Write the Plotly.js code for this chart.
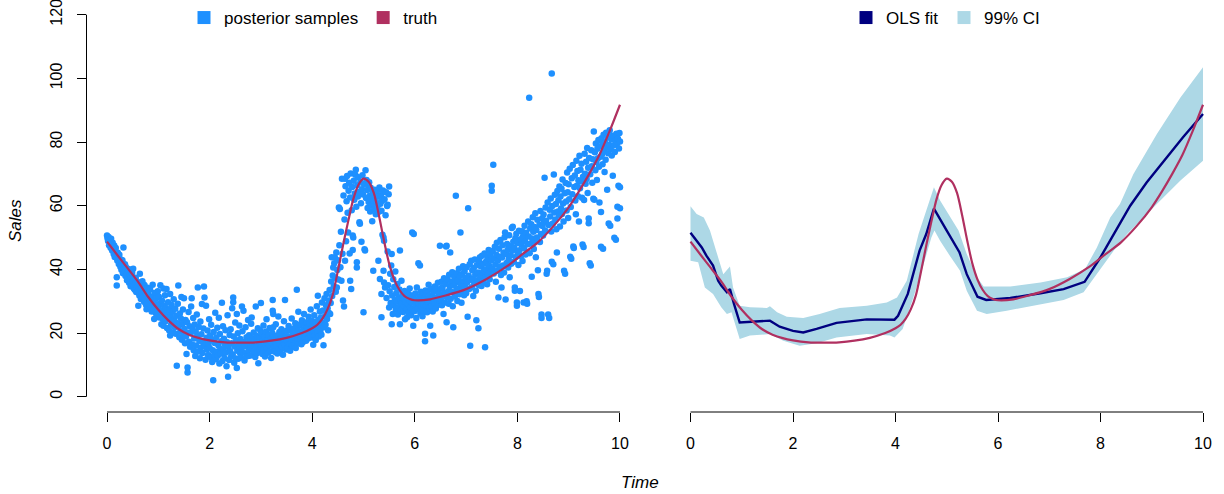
<!DOCTYPE html>
<html>
<head>
<meta charset="utf-8">
<script src="https://cdn.plot.ly/plotly-3.0.1.min.js"></script>
<style>html,body{margin:0;padding:0;background:#fff;}#chart{width:1224px;height:494px;}</style>
</head>
<body>
<div id="chart"></div>
<script>
// ---------- tick labels ----------
const xTicks = [0, 2, 4, 6, 8, 10];
const yTicks = [0, 20, 40, 60, 80, 100, 120];

// ---------- truth curve ----------
const truthTime  = [0,0.2,0.4,0.6,0.8,1.0,1.2,1.4,1.6,1.8,2.0,2.3,2.6,2.9,3.2,3.5,3.8,4.0,4.1,4.2,4.3,4.4,4.5,4.6,4.7,4.8,4.9,5.0,5.1,5.2,5.3,5.4,5.5,5.6,5.7,5.8,5.9,6.0,6.3,6.6,7.0,7.4,7.8,8.1,8.4,8.7,9.0,9.2,9.4,9.6,9.8,10];
const truthSales = [48.7,44.5,40.4,36.2,31.4,27.3,23.9,21.2,19.5,18.4,17.7,17.1,17.0,17.1,17.6,18.5,20.0,21.5,22.6,24.5,27.5,32.0,39.5,47.5,55.0,62.0,66.5,68.5,67.5,64.0,57.0,49.0,41.8,36.8,33.6,31.6,30.7,30.3,30.6,31.8,33.8,37.0,41.0,44.8,48.5,53.5,59.5,64.5,70.0,76.0,83.5,91.7];

// ---------- OLS fit ----------
const olsTime  = [0,0.22,0.31,0.44,0.54,0.6,0.71,0.77,0.85,0.96,1.35,1.55,1.74,2.0,2.2,2.46,2.85,3.44,3.98,4.05,4.24,4.47,4.6,4.75,5.0,5.25,5.39,5.6,5.77,6.24,6.83,7.28,7.69,8.0,8.26,8.58,8.9,9.29,9.61,10];
const olsSales = [51.5,46.9,44.3,41.2,36.4,34.9,32.8,33.8,29.1,23.3,23.7,23.9,22.0,20.7,20.2,21.3,23.2,24.3,24.2,25.4,32.3,45.9,51.1,59.1,52.2,45.3,38.5,31.4,30.4,31.0,32.5,33.8,36.1,43.8,51.1,60.0,67.3,75.2,81.5,88.8];

// ---------- 99% CI ----------
const ciUpperTime = [0,0.12,0.26,0.38,0.51,0.64,0.71,0.77,0.83,0.96,1.16,1.49,1.55,1.69,1.88,2.2,2.52,2.91,3.44,3.83,4.03,4.22,4.45,4.6,4.75,4.87,5.23,5.39,5.59,5.72,6.24,6.83,7.35,7.7,7.93,8.19,8.38,8.64,9.1,9.56,10];
const ciUpper     = [59.8,57.4,56.3,52.2,45.3,38.5,39.8,40.9,34.3,28.6,28.1,27.9,28.4,26.5,25.1,24.7,26.0,27.9,28.6,29.6,31.2,36.4,51.1,58.4,65.8,61.6,52.2,44.8,37.5,34.6,34.6,35.9,37.5,40.1,46.9,56.3,60.5,69.9,82.5,94.0,103.5];
const ciLowerTime = [0,0.15,0.28,0.44,0.6,0.71,0.8,0.9,0.96,1.16,1.55,1.81,2.13,2.46,2.85,3.44,3.89,3.98,4.14,4.33,4.53,4.7,4.76,4.87,5.06,5.26,5.39,5.59,5.78,6.17,6.56,7.28,7.67,7.93,8.26,8.52,8.78,9.1,9.56,10];
const ciLower     = [42.7,42.2,34.3,32.3,28.1,26.0,26.5,21.3,18.1,19.2,19.7,17.6,16.0,16.8,18.6,19.7,19.2,18.6,21.3,30.2,40.6,50.0,52.2,49.0,44.3,39.6,33.3,27.0,26.0,27.0,28.1,30.4,32.8,38.5,45.9,51.1,55.3,60.5,67.9,74.1];

// ---------- posterior samples [time, sales] ----------
const samples0to1 = [[0.00,50.6],[0.01,49.8],[0.02,48.9],[0.03,50.2],[0.04,47.6],[0.05,49.3],[0.06,48.1],[0.07,46.8],[0.08,49.6],[0.09,47.2],[0.10,45.9],[0.11,48.4],[0.12,46.3],[0.13,44.8],[0.14,47.5],[0.15,43.9],[0.16,45.6],[0.17,46.7],[0.18,44.1],[0.19,37.5],[0.19,34.9],[0.20,42.8],[0.21,45.2],[0.22,43.4],[0.23,41.7],[0.24,44.6],[0.25,42.2],[0.26,40.8],[0.27,43.1],[0.28,39.9],[0.29,41.5],[0.30,42.9],[0.31,38.8],[0.32,46.9],[0.33,40.3],[0.34,39.2],[0.35,41.6],[0.36,37.9],[0.37,40.7],[0.38,38.4],[0.39,36.6],[0.40,39.5],[0.41,37.3],[0.42,40.1],[0.43,35.8],[0.44,38.2],[0.45,36.9],[0.46,34.7],[0.47,37.6],[0.48,35.5],[0.49,38.9],[0.50,36.2],[0.51,40.2],[0.52,34.1],[0.53,36.8],[0.54,33.6],[0.55,35.3],[0.56,37.4],[0.57,32.9],[0.58,34.8],[0.59,36.1],[0.60,33.2],[0.61,28.6],[0.62,35.7],[0.63,31.8],[0.64,38.6],[0.65,33.9],[0.66,30.7],[0.67,34.6],[0.68,32.4],[0.69,36.3],[0.70,31.1],[0.71,33.3],[0.72,29.8],[0.73,35.1],[0.74,30.4],[0.75,32.7],[0.76,28.9],[0.77,27.5],[0.78,31.6],[0.79,34.2],[0.80,29.3],[0.81,32.1],[0.82,27.9],[0.83,30.8],[0.84,33.7],[0.85,28.4],[0.86,31.3],[0.87,26.8],[0.88,29.6],[0.89,35.2],[0.90,27.2],[0.91,30.1],[0.92,24.4],[0.93,32.6],[0.94,28.1],[0.95,26.3],[0.96,30.9],[0.97,25.7],[0.98,29.0],[0.99,33.1]];
const samples1to2 = [[1.00,27.8],[1.01,31.4],[1.02,24.9],[1.03,29.3],[1.04,35.0],[1.05,26.6],[1.06,22.8],[1.07,30.2],[1.08,27.1],[1.09,24.3],[1.10,34.0],[1.10,22.3],[1.11,28.6],[1.12,25.6],[1.13,31.9],[1.14,23.7],[1.15,27.9],[1.16,33.8],[1.17,21.6],[1.18,26.2],[1.19,29.7],[1.20,24.8],[1.21,20.9],[1.22,27.3],[1.23,32.3],[1.23,19.2],[1.24,25.1],[1.25,22.6],[1.26,28.8],[1.27,23.9],[1.28,26.7],[1.29,20.2],[1.30,30.6],[1.31,24.2],[1.32,21.8],[1.33,27.6],[1.34,19.8],[1.35,25.4],[1.36,9.7],[1.37,23.1],[1.38,29.2],[1.39,34.9],[1.40,22.2],[1.41,18.7],[1.42,26.1],[1.43,20.6],[1.44,24.6],[1.45,31.3],[1.46,17.9],[1.47,22.9],[1.48,27.4],[1.49,19.4],[1.50,30.9],[1.51,21.3],[1.52,16.8],[1.53,24.1],[1.54,18.9],[1.55,13.4],[1.56,23.4],[1.57,9.2],[1.57,7.6],[1.58,20.1],[1.59,26.6],[1.60,17.3],[1.61,22.1],[1.62,15.7],[1.63,19.9],[1.64,28.3],[1.65,30.9],[1.66,16.4],[1.67,21.2],[1.68,24.7],[1.69,14.6],[1.70,18.3],[1.71,22.7],[1.72,12.8],[1.73,20.4],[1.74,16.1],[1.75,25.8],[1.76,19.1],[1.77,34.3],[1.78,14.2],[1.79,21.9],[1.80,17.6],[1.81,12.1],[1.82,23.6],[1.83,15.4],[1.84,19.6],[1.85,29.1],[1.86,13.7],[1.87,17.1],[1.88,21.4],[1.89,34.6],[1.90,31.2],[1.91,15.9],[1.92,11.6],[1.93,28.6],[1.94,18.5],[1.95,14.9],[1.96,20.8],[1.97,13.1],[1.98,16.7],[1.99,24.3]];
const samples2to3 = [[2.00,15.3],[2.01,19.2],[2.02,12.4],[2.03,22.6],[2.04,17.8],[2.05,10.9],[2.06,14.6],[2.07,5.2],[2.08,20.3],[2.09,13.2],[2.10,16.9],[2.11,26.4],[2.12,11.8],[2.13,18.6],[2.14,14.1],[2.15,21.7],[2.16,12.9],[2.17,16.2],[2.18,24.8],[2.19,10.4],[2.20,19.7],[2.21,15.1],[2.22,13.6],[2.23,17.4],[2.24,29.5],[2.25,11.2],[2.26,22.1],[2.27,14.8],[2.28,18.2],[2.29,12.2],[2.30,16.5],[2.31,20.9],[2.32,13.9],[2.33,9.6],[2.34,17.1],[2.35,25.6],[2.36,6.3],[2.37,15.6],[2.38,11.5],[2.39,19.4],[2.40,14.3],[2.41,21.2],[2.42,12.6],[2.43,16.8],[2.44,27.8],[2.45,13.3],[2.46,31.2],[2.46,29.7],[2.47,18.9],[2.48,10.7],[2.49,15.8],[2.50,23.3],[2.51,12.0],[2.52,17.7],[2.53,26.0],[2.53,9.0],[2.54,14.4],[2.55,19.9],[2.56,11.9],[2.57,16.3],[2.58,22.4],[2.59,13.8],[2.60,18.1],[2.61,12.3],[2.62,15.2],[2.63,28.3],[2.64,20.6],[2.65,14.0],[2.66,27.0],[2.67,17.2],[2.68,11.4],[2.69,15.9],[2.70,21.8],[2.71,13.5],[2.72,18.7],[2.73,12.7],[2.74,16.6],[2.75,24.1],[2.76,14.7],[2.77,19.3],[2.78,12.9],[2.79,17.5],[2.80,15.4],[2.81,22.9],[2.82,24.9],[2.83,13.1],[2.84,18.4],[2.85,16.1],[2.86,20.2],[2.87,14.2],[2.88,17.9],[2.89,12.5],[2.90,28.3],[2.91,15.7],[2.92,19.1],[2.93,13.7],[2.94,21.5],[2.95,10.5],[2.96,16.9],[2.97,18.3],[2.98,14.5],[2.99,20.7]];
const samples3to4 = [[3.00,29.4],[3.01,15.6],[3.02,19.8],[3.03,13.4],[3.04,17.6],[3.05,22.4],[3.06,14.9],[3.07,18.8],[3.08,12.6],[3.09,16.4],[3.10,20.5],[3.11,24.3],[3.12,15.2],[3.13,17.9],[3.14,13.8],[3.15,19.4],[3.16,16.2],[3.17,21.6],[3.18,14.3],[3.19,18.1],[3.20,12.2],[3.21,16.9],[3.22,20.1],[3.23,30.4],[3.23,27.0],[3.24,21.8],[3.24,26.0],[3.25,15.5],[3.26,18.6],[3.27,14.1],[3.28,17.3],[3.29,22.8],[3.30,16.0],[3.31,19.2],[3.32,13.6],[3.33,17.7],[3.34,25.2],[3.35,15.1],[3.36,20.3],[3.37,16.7],[3.38,14.6],[3.39,18.4],[3.40,21.2],[3.41,15.8],[3.42,19.6],[3.43,13.2],[3.44,17.1],[3.45,23.7],[3.46,16.3],[3.47,30.4],[3.48,18.9],[3.49,14.8],[3.50,20.7],[3.51,17.4],[3.52,15.4],[3.53,19.0],[3.54,22.2],[3.55,16.6],[3.56,18.2],[3.57,14.4],[3.58,20.9],[3.59,17.0],[3.60,24.6],[3.61,15.9],[3.62,19.5],[3.63,17.8],[3.64,21.4],[3.65,16.1],[3.66,18.7],[3.67,23.1],[3.68,15.3],[3.69,20.0],[3.70,33.6],[3.71,17.5],[3.72,21.9],[3.73,26.7],[3.74,16.8],[3.75,19.3],[3.76,22.7],[3.77,18.0],[3.78,20.4],[3.79,16.5],[3.80,24.0],[3.81,19.7],[3.82,17.2],[3.83,21.1],[3.84,26.0],[3.85,18.5],[3.86,22.5],[3.87,20.6],[3.88,17.6],[3.89,23.4],[3.90,19.8],[3.91,21.7],[3.92,18.3],[3.93,25.1],[3.94,20.2],[3.95,22.9],[3.96,19.1],[3.97,27.4],[3.98,21.3],[3.99,23.9]];
const samples4to45 = [[4.00,18.6],[4.01,22.8],[4.02,16.3],[4.03,20.4],[4.04,25.6],[4.05,19.2],[4.06,23.5],[4.07,17.8],[4.08,21.6],[4.09,28.4],[4.10,20.1],[4.11,31.7],[4.12,24.2],[4.13,18.9],[4.14,22.3],[4.15,26.8],[4.16,20.7],[4.17,24.9],[4.18,19.5],[4.19,29.6],[4.20,23.2],[4.21,27.1],[4.22,16.2],[4.23,21.8],[4.24,30.9],[4.25,25.3],[4.26,22.6],[4.27,28.7],[4.28,32.3],[4.29,24.4],[4.30,27.8],[4.31,20.9],[4.32,30.2],[4.33,26.3],[4.34,33.5],[4.35,26.0],[4.36,29.4],[4.37,36.2],[4.38,43.8],[4.39,31.6],[4.40,38.1],[4.41,40.6],[4.42,34.7],[4.43,41.9],[4.44,43.8],[4.45,37.4],[4.46,33.0],[4.47,45.3],[4.48,34.3],[4.49,39.8]];
const samples45to55 = [[4.50,42.9],[4.51,36.8],[4.52,59.4],[4.53,47.6],[4.54,59.0],[4.55,40.7],[4.56,51.8],[4.57,36.4],[4.58,68.5],[4.59,44.9],[4.60,30.2],[4.61,63.2],[4.62,28.3],[4.63,55.7],[4.64,42.7],[4.64,68.5],[4.65,66.1],[4.66,48.8],[4.67,61.4],[4.68,69.3],[4.69,57.8],[4.70,51.6],[4.71,64.7],[4.72,67.2],[4.73,45.0],[4.74,36.4],[4.74,62.6],[4.75,70.1],[4.76,33.8],[4.77,58.6],[4.78,65.9],[4.79,46.1],[4.79,50.6],[4.80,50.0],[4.81,67.8],[4.82,61.9],[4.83,63.8],[4.84,69.7],[4.85,71.3],[4.86,59.7],[4.87,42.2],[4.87,40.6],[4.88,66.4],[4.89,62.9],[4.90,68.9],[4.91,64.3],[4.92,54.8],[4.93,54.3],[4.94,67.5],[4.95,60.8],[4.96,48.7],[4.97,65.2],[4.98,69.6],[4.99,63.5],[5.00,26.5],[5.01,66.8],[5.02,46.3],[5.03,45.9],[5.04,71.1],[5.05,62.4],[5.06,68.1],[5.07,64.9],[5.08,59.3],[5.09,66.6],[5.10,61.2],[5.11,67.4],[5.12,63.1],[5.13,58.2],[5.14,65.6],[5.15,62.2],[5.16,60.1],[5.17,55.1],[5.18,64.1],[5.19,39.6],[5.20,61.7],[5.21,58.9],[5.22,65.0],[5.23,63.7],[5.24,57.3],[5.25,61.0],[5.26,64.5],[5.27,59.6],[5.28,62.8],[5.29,42.7],[5.30,58.1],[5.31,65.7],[5.32,37.0],[5.33,60.6],[5.34,63.3],[5.35,58.4],[5.35,32.3],[5.35,25.0],[5.36,61.5],[5.37,50.9],[5.38,64.8],[5.39,50.0],[5.39,39.6],[5.40,35.9],[5.40,49.0],[5.41,62.0],[5.42,34.3],[5.43,57.0],[5.44,64.2],[5.45,31.0],[5.46,59.9],[5.47,60.3],[5.47,45.6],[5.48,35.0],[5.49,63.6],[5.50,28.0],[5.50,66.0]];
const samples55to65 = [[5.51,33.1],[5.52,38.6],[5.53,29.4],[5.54,41.2],[5.55,44.8],[5.55,22.8],[5.56,31.8],[5.57,26.0],[5.58,36.9],[5.59,28.7],[5.60,34.5],[5.61,30.3],[5.62,39.3],[5.63,27.4],[5.64,32.6],[5.65,29.9],[5.66,35.4],[5.67,25.8],[5.68,31.2],[5.69,28.2],[5.70,33.7],[5.71,45.9],[5.71,22.8],[5.72,30.6],[5.73,27.1],[5.74,36.4],[5.75,29.3],[5.76,32.1],[5.77,26.6],[5.78,30.9],[5.79,28.5],[5.80,33.2],[5.81,24.3],[5.82,29.7],[5.83,31.5],[5.84,27.8],[5.85,25.0],[5.85,27.5],[5.86,32.8],[5.87,29.1],[5.88,26.4],[5.89,30.4],[5.90,34.0],[5.91,28.0],[5.92,31.9],[5.93,25.6],[5.94,29.6],[5.95,51.6],[5.96,27.3],[5.97,22.3],[5.98,51.1],[5.99,30.8],[6.00,26.9],[6.01,32.4],[6.02,28.8],[6.03,24.7],[6.04,34.3],[6.05,30.0],[6.06,27.6],[6.07,41.9],[6.08,29.2],[6.09,31.4],[6.10,41.2],[6.11,26.2],[6.12,33.0],[6.13,28.4],[6.14,30.7],[6.15,25.3],[6.16,32.2],[6.17,29.0],[6.18,27.0],[6.19,31.1],[6.20,19.8],[6.20,17.4],[6.21,33.4],[6.22,28.6],[6.23,30.5],[6.24,26.5],[6.25,32.7],[6.26,29.8],[6.27,35.2],[6.28,27.9],[6.29,31.7],[6.30,22.3],[6.31,30.1],[6.32,33.8],[6.33,28.3],[6.34,31.3],[6.35,26.8],[6.36,19.2],[6.37,32.9],[6.38,29.5],[6.39,34.6],[6.40,30.9],[6.41,27.7],[6.42,33.6],[6.43,31.0],[6.44,29.3],[6.45,35.8],[6.46,28.9],[6.47,32.5],[6.48,30.2],[6.49,47.4]];
const samples65to75 = [[6.50,33.9],[6.51,30.4],[6.52,36.1],[6.53,28.7],[6.54,34.3],[6.55,31.8],[6.56,26.0],[6.57,37.2],[6.58,32.6],[6.59,29.6],[6.60,35.5],[6.61,47.2],[6.62,47.4],[6.62,23.4],[6.63,31.2],[6.64,36.8],[6.65,33.1],[6.66,29.2],[6.67,38.3],[6.68,34.7],[6.69,45.3],[6.70,30.8],[6.71,36.0],[6.72,32.9],[6.73,39.1],[6.74,28.4],[6.75,21.8],[6.76,34.9],[6.77,37.6],[6.78,31.5],[6.79,35.8],[6.80,63.1],[6.81,33.4],[6.82,38.8],[6.83,30.1],[6.84,36.5],[6.85,34.0],[6.86,40.2],[6.87,32.2],[6.88,37.9],[6.89,51.6],[6.90,35.2],[6.91,29.5],[6.92,38.5],[6.93,33.6],[6.94,41.0],[6.95,36.3],[6.96,31.9],[6.97,39.4],[6.98,34.6],[6.99,37.3],[7.00,32.5],[7.01,40.7],[7.02,35.9],[7.03,25.1],[7.04,59.2],[7.05,38.0],[7.06,33.8],[7.07,41.6],[7.08,16.0],[7.09,36.7],[7.10,42.7],[7.11,34.4],[7.12,39.7],[7.13,37.1],[7.14,31.6],[7.15,40.4],[7.16,35.6],[7.17,43.1],[7.18,38.4],[7.19,33.3],[7.20,24.0],[7.21,41.3],[7.22,36.6],[7.23,39.0],[7.24,21.5],[7.25,35.0],[7.26,42.2],[7.27,43.8],[7.28,37.7],[7.29,40.9],[7.30,34.8],[7.31,44.3],[7.32,38.9],[7.33,36.2],[7.34,41.8],[7.35,39.5],[7.36,45.0],[7.37,15.5],[7.38,37.4],[7.39,42.5],[7.40,40.0],[7.41,35.3],[7.42,43.6],[7.43,38.6],[7.44,46.1],[7.45,41.1],[7.46,36.9],[7.47,44.7],[7.48,39.2],[7.49,42.9],[7.50,66.3],[7.50,64.7]];
const samples75to85 = [[7.51,40.3],[7.52,45.8],[7.53,72.9],[7.54,38.7],[7.55,43.4],[7.56,47.1],[7.57,41.5],[7.58,36.1],[7.59,44.6],[7.60,48.4],[7.61,39.6],[7.62,42.8],[7.63,31.2],[7.64,46.5],[7.65,40.9],[7.66,44.0],[7.67,49.2],[7.68,38.2],[7.69,34.3],[7.70,43.7],[7.71,47.6],[7.72,41.2],[7.73,45.3],[7.74,39.0],[7.75,50.1],[7.76,51.6],[7.77,30.5],[7.78,44.8],[7.79,42.0],[7.80,48.0],[7.81,46.2],[7.82,40.6],[7.83,43.2],[7.84,50.7],[7.85,37.5],[7.86,47.3],[7.87,44.4],[7.88,41.8],[7.89,53.0],[7.90,45.9],[7.91,53.4],[7.92,48.7],[7.93,42.4],[7.94,46.8],[7.95,34.3],[7.95,33.3],[7.96,49.8],[7.97,43.9],[7.98,51.2],[7.99,28.6],[7.99,29.6],[8.00,45.5],[8.01,48.3],[8.02,41.4],[8.03,52.1],[8.04,46.0],[8.05,33.2],[8.06,49.5],[8.07,44.2],[8.08,47.7],[8.09,52.0],[8.10,42.6],[8.11,50.4],[8.12,29.6],[8.13,46.6],[8.14,53.7],[8.15,48.9],[8.16,44.7],[8.17,51.5],[8.18,30.0],[8.19,29.2],[8.20,47.9],[8.21,55.0],[8.22,50.3],[8.23,93.9],[8.24,45.1],[8.25,52.8],[8.26,48.1],[8.27,54.2],[8.28,37.7],[8.29,49.7],[8.30,56.4],[8.31,51.8],[8.32,46.4],[8.33,53.3],[8.34,49.0],[8.35,57.6],[8.36,43.8],[8.37,52.4],[8.38,50.0],[8.39,55.6],[8.40,39.7],[8.41,32.3],[8.42,31.3],[8.43,54.0],[8.44,48.6],[8.45,58.3],[8.46,51.1],[8.47,25.8],[8.47,24.7],[8.48,56.0],[8.49,53.6]];
const samples85to95 = [[8.50,50.6],[8.51,57.2],[8.52,54.7],[8.53,68.8],[8.54,52.2],[8.55,59.4],[8.56,55.3],[8.57,38.6],[8.58,39.6],[8.59,61.0],[8.60,25.8],[8.61,53.9],[8.62,24.7],[8.63,58.7],[8.64,56.6],[8.65,62.3],[8.66,51.9],[8.67,101.5],[8.67,42.4],[8.68,59.9],[8.69,54.4],[8.70,41.6],[8.71,69.8],[8.72,57.9],[8.73,63.4],[8.74,55.7],[8.75,60.5],[8.76,52.6],[8.77,45.3],[8.78,64.6],[8.79,58.2],[8.80,61.7],[8.81,56.9],[8.82,66.0],[8.83,53.5],[8.84,62.9],[8.85,59.1],[8.86,65.3],[8.87,57.4],[8.88,68.2],[8.89,60.7],[8.90,55.0],[8.91,39.6],[8.92,63.9],[8.93,38.6],[8.94,67.1],[8.95,61.3],[8.96,58.5],[8.97,70.4],[8.98,64.2],[8.99,56.1],[9.00,66.7],[9.01,62.0],[9.02,71.6],[9.03,44.0],[9.04,59.6],[9.05,43.3],[9.06,68.6],[9.07,63.6],[9.08,72.8],[9.09,47.2],[9.10,46.7],[9.11,65.9],[9.12,69.5],[9.13,61.6],[9.14,57.3],[9.15,74.1],[9.16,66.3],[9.17,70.9],[9.18,63.0],[9.19,68.0],[9.20,55.0],[9.21,75.7],[9.22,65.5],[9.23,71.3],[9.24,67.6],[9.25,73.2],[9.26,62.5],[9.27,47.8],[9.28,69.1],[9.29,47.0],[9.30,61.8],[9.31,76.3],[9.32,70.0],[9.33,66.9],[9.34,73.8],[9.35,68.4],[9.36,78.1],[9.37,64.0],[9.38,71.9],[9.39,56.0],[9.39,54.5],[9.40,75.0],[9.41,41.9],[9.42,69.9],[9.43,41.2],[9.44,77.4],[9.45,72.4],[9.46,67.2],[9.47,74.6],[9.48,62.2],[9.49,83.3]];
const samples95to10 = [[9.50,61.9],[9.51,76.8],[9.52,71.1],[9.53,79.5],[9.54,73.7],[9.55,68.1],[9.56,77.9],[9.57,74.9],[9.58,80.6],[9.59,72.2],[9.60,61.0],[9.61,78.7],[9.62,75.4],[9.63,47.1],[9.63,58.0],[9.64,81.2],[9.65,76.1],[9.66,73.0],[9.67,46.5],[9.67,79.9],[9.68,82.3],[9.69,77.2],[9.70,70.6],[9.71,80.1],[9.72,74.4],[9.73,82.9],[9.74,78.3],[9.75,65.0],[9.76,81.6],[9.77,76.5],[9.78,54.4],[9.79,79.1],[9.80,83.7],[9.81,53.7],[9.82,77.7],[9.83,80.9],[9.84,75.8],[9.85,82.0],[9.86,69.4],[9.87,78.9],[9.88,81.9],[9.89,49.9],[9.90,76.9],[9.91,80.4],[9.92,49.3],[9.93,82.6],[9.94,79.4],[9.95,56.0],[9.95,59.7],[9.96,81.0],[9.97,66.3],[9.98,78.0],[9.99,82.8],[10.00,65.8],[10.00,59.2],[10.00,80.2]];

// ---------- colours ----------
const colSamples = '#1E90FF';
const colTruth = '#B03060';
const colOLS = '#000080';
const colCI = '#ADD8E6';

const allSamples = [].concat(samples0to1, samples1to2, samples2to3, samples3to4, samples4to45,
  samples45to55, samples55to65, samples65to75, samples75to85, samples85to95, samples95to10);
const sampleTime = allSamples.map(p => p[0]);
const sampleSales = allSamples.map(p => p[1]);

const W = 1224, H = 494;
const FONT = '"Liberation Sans", Arial, Helvetica, sans-serif';
const FS = 17;      // legend / titles
const FT = 16;      // tick labels
const yDom = [82 / H, 1];
const yRange = [-4.8, 124.61];

const traces = [
  // left panel
  {x: sampleTime, y: sampleSales, type: 'scatter', mode: 'markers', xaxis: 'x', yaxis: 'y',
   marker: {color: colSamples, size: 6.5, line: {width: 0}}, showlegend: false, hoverinfo: 'x+y'},
  {x: truthTime, y: truthSales, type: 'scatter', mode: 'lines', xaxis: 'x', yaxis: 'y',
   line: {color: colTruth, width: 2.2, shape: 'spline', smoothing: 0.8}, showlegend: false},
  // right panel
  {x: ciUpperTime.concat(ciLowerTime.slice().reverse()), y: ciUpper.concat(ciLower.slice().reverse()),
   type: 'scatter', mode: 'lines', fill: 'toself', fillcolor: colCI, line: {width: 0, color: colCI},
   xaxis: 'x2', yaxis: 'y2', showlegend: false, hoverinfo: 'skip'},
  {x: olsTime, y: olsSales, type: 'scatter', mode: 'lines', xaxis: 'x2', yaxis: 'y2',
   line: {color: colOLS, width: 2.4}, showlegend: false},
  {x: truthTime, y: truthSales, type: 'scatter', mode: 'lines', xaxis: 'x2', yaxis: 'y2',
   line: {color: colTruth, width: 2.2, shape: 'spline', smoothing: 0.8}, showlegend: false},
  // legend keys (squares, as in the original)
  {x: [null], y: [null], type: 'scatter', mode: 'markers', name: 'posterior samples', legend: 'legend',
   marker: {symbol: 'square', size: 13, color: colSamples}, xaxis: 'x', yaxis: 'y'},
  {x: [null], y: [null], type: 'scatter', mode: 'markers', name: 'truth', legend: 'legend',
   marker: {symbol: 'square', size: 13, color: colTruth}, xaxis: 'x', yaxis: 'y'},
  {x: [null], y: [null], type: 'scatter', mode: 'markers', name: 'OLS fit', legend: 'legend2',
   marker: {symbol: 'square', size: 13, color: colOLS}, xaxis: 'x2', yaxis: 'y2'},
  {x: [null], y: [null], type: 'scatter', mode: 'markers', name: '99% CI', legend: 'legend3',
   marker: {symbol: 'square', size: 13, color: colCI}, xaxis: 'x2', yaxis: 'y2'}
];

const xAxisCommon = {
  range: [-0.4, 10.4], tickvals: xTicks, ticktext: xTicks.map(String), ticks: 'outside',
  ticklen: 9, tickwidth: 1, tickcolor: '#000', showline: false, showgrid: false, zeroline: false,
  tickfont: {family: FONT, size: FT, color: '#000'}, ticklabelstandoff: 8, fixedrange: true
};

const legendCommon = {orientation: 'h', xanchor: 'left', y: 1, yanchor: 'top',
  bgcolor: 'rgba(0,0,0,0)', borderwidth: 0, font: {family: FONT, size: FS, color: '#000'}};

const layout = {
  width: W, height: H,
  margin: {l: 0, r: 0, t: 0, b: 0, pad: 0},
  paper_bgcolor: '#fff', plot_bgcolor: '#fff',
  font: {family: FONT, size: FS, color: '#000'},
  xaxis: Object.assign({}, xAxisCommon, {domain: [86.5 / W, 640.5 / W], anchor: 'y'}),
  yaxis: {domain: yDom, range: yRange, tickvals: yTicks, ticktext: yTicks.map(String), ticks: 'outside',
    ticklen: 9, tickwidth: 1, tickcolor: '#000', tickangle: -90, showline: false, showgrid: false,
    zeroline: false, tickfont: {family: FONT, size: FT, color: '#000'}, ticklabelstandoff: 8,
    ticklabeloverflow: 'allow', anchor: 'x', fixedrange: true},
  xaxis2: Object.assign({}, xAxisCommon, {domain: [670 / W, 1223.5 / W], anchor: 'y2'}),
  yaxis2: {domain: yDom, range: yRange, visible: false, anchor: 'x2', fixedrange: true},
  legend: Object.assign({}, legendCommon, {x: 184 / W}),
  legend2: Object.assign({}, legendCommon, {x: 846 / W}),
  legend3: Object.assign({}, legendCommon, {x: 944 / W}),
  shapes: [
    {type: 'line', xref: 'x', yref: 'paper', x0: xTicks[0], x1: xTicks[xTicks.length - 1], y0: yDom[0], y1: yDom[0], line: {color: '#000', width: 1}},
    {type: 'line', xref: 'x2', yref: 'paper', x0: xTicks[0], x1: xTicks[xTicks.length - 1], y0: yDom[0], y1: yDom[0], line: {color: '#000', width: 1}},
    {type: 'line', xref: 'paper', yref: 'y', x0: 86.5 / W, x1: 86.5 / W, y0: yTicks[0], y1: yTicks[yTicks.length - 1], line: {color: '#000', width: 1}}
  ],
  annotations: [
    {text: '<i>Time</i>', xref: 'paper', yref: 'paper', x: 640 / W, y: 1 - 482 / H, showarrow: false,
     xanchor: 'center', yanchor: 'middle', font: {family: FONT, size: FS, color: '#000'}},
    {text: '<i>Sales</i>', xref: 'paper', yref: 'paper', x: 15 / W, y: 1 - 221 / H, showarrow: false,
     textangle: -90, xanchor: 'center', yanchor: 'middle', font: {family: FONT, size: FS, color: '#000'}}
  ]
};

Plotly.newPlot('chart', traces, layout, {displayModeBar: false, staticPlot: true});
</script>
</body>
</html>
